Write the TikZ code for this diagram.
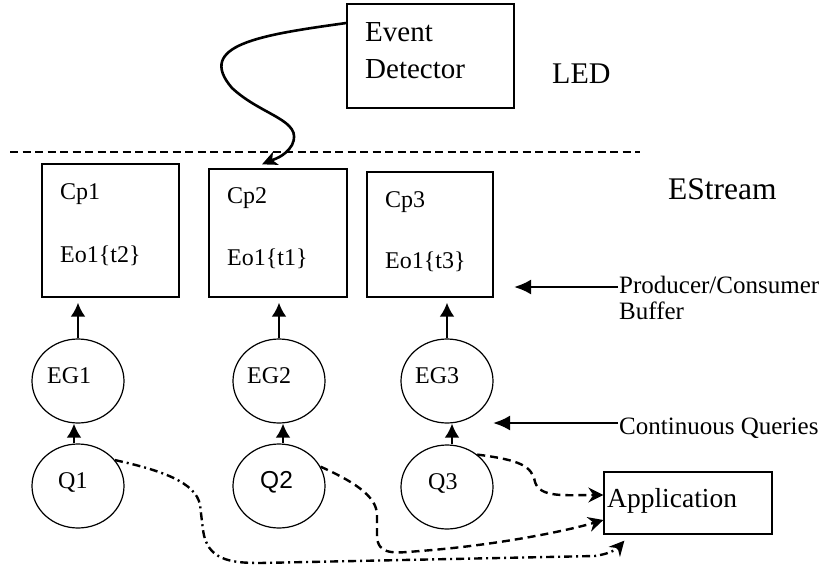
\documentclass[tikz,border=0pt]{standalone}
\usepackage{fontspec}
\setmainfont{Liberation Serif}
\newfontfamily\arialf{Liberation Sans}
\usetikzlibrary{shapes.geometric,arrows.meta}
\begin{document}
\begin{tikzpicture}[x=1pt,y=-1pt,
  box/.style={draw,line width=1.3pt,rectangle,inner sep=0pt},
  oval/.style={draw,ellipse,line width=1.2pt,minimum width=92pt,minimum height=84pt,inner sep=0pt},
  txt/.style={inner sep=0pt,anchor=base west},
  fbig/.style={font=\fontsize{29}{34}\selectfont},
  fmid/.style={font=\fontsize{24}{28}\selectfont},
  flab/.style={font=\fontsize{25}{28}\selectfont},
  arr/.style={line width=2.7pt,-{Latex[length=14pt,width=15pt]}},
  harr/.style={line width=2.4pt,-{Latex[length=17pt,width=15pt]}},
  dsh/.style={line width=2.4pt,dash pattern=on 8pt off 5pt,-{Stealth[length=15pt,width=15pt,inset=5pt]}},
  dshdot/.style={line width=2.4pt,dash pattern=on 8pt off 4pt on 2pt off 4pt,-{Stealth[length=15pt,width=15pt,inset=5pt]}},
  curv/.style={line width=2.6pt,-{Stealth[length=15pt,width=14pt,inset=4pt]}}
]
\useasboundingbox (0,0) rectangle (827,567);

% boxes
\node[box,minimum width=167pt,minimum height=104pt] (ED) at (430.5,56) {};
\node[box,minimum width=137pt,minimum height=133pt] (cp1) at (110.5,230.5) {};
\node[box,minimum width=138pt,minimum height=128pt] (cp2) at (278,233) {};
\node[box,minimum width=126pt,minimum height=125pt] (cp3) at (430,234.5) {};
\node[box,minimum width=168pt,minimum height=62pt] (App) at (688,503) {};

% ellipses
\node[oval] (EG1) at (78,381) {};
\node[oval] (EG2) at (279,381) {};
\node[oval] (EG3) at (447,381) {};
\node[oval] (Q1) at (78,486) {};
\node[oval] (Q2) at (279,486) {};
\node[oval] (Q3) at (447,487) {};

% texts
\node[txt,fbig] (tEv) at (365,42) {Event};
\node[txt,fbig] (tDet) at (365,79) {Detector};
\node[txt,font=\fontsize{30}{34}\selectfont] (tLED) at (552,84) {LED};
\node[txt,font=\fontsize{31.5}{36}\selectfont] (tES) at (668,199) {EStream};
\node[txt,fmid] (tc1) at (60,199) {Cp1};
\node[txt,fmid] (te1) at (60,262) {Eo1\{t2\}};
\node[txt,fmid] (tc2) at (227,203) {Cp2};
\node[txt,fmid] (te2) at (227,265) {Eo1\{t1\}};
\node[txt,fmid] (tc3) at (385,207) {Cp3};
\node[txt,fmid] (te3) at (385,268) {Eo1\{t3\}};
\node[txt,fmid] (tg1) at (47,383) {EG1};
\node[txt,fmid] (tg2) at (247,383) {EG2};
\node[txt,fmid] (tg3) at (415,383) {EG3};
\node[txt,fmid] (tq1) at (58,488) {Q1};
\node[txt,font=\fontsize{24.5}{28}\arialf] (tq2) at (260,488) {Q2};
\node[txt,fmid] (tq3) at (428,489) {Q3};
\node[txt,flab] (tPC) at (619,293) {Producer/Consumer};
\node[txt,flab] (tBuf) at (619,319) {Buffer};
\node[txt,flab] (tCQ) at (619,434) {Continuous Queries};
\node[txt,font=\fontsize{27.5}{32}\selectfont] (tApp) at (607,507) {Application};

% divider
\coordinate (dL) at (10,152);
\coordinate (dR) at (640,152);
\draw[line width=2.2pt,dash pattern=on 8pt off 4.5pt] (dL) -- (dR);

% curved arrow from Event Detector to Cp2
\draw[curv] ([yshift=33pt]ED.west) .. controls (260,35) and (195,45) .. (232,88)
  .. controls (262,116) and (304,120) .. (292,145)
  .. controls (285,157) and (272,160) .. ([xshift=-16pt,yshift=4pt]cp2.north);

% vertical arrows
\draw[arr,shorten >=5pt] (EG1.north) -- (EG1.north |- cp1.south);
\draw[arr,shorten >=5pt] (EG2.north) -- (EG2.north |- cp2.south);
\draw[arr,shorten >=5pt] (EG3.north) -- (EG3.north |- cp3.south);
\draw[arr] ([xshift=-4pt]Q1.north) -- ([xshift=-4pt]EG1.south);
\draw[arr] ([xshift=4pt]Q2.north) -- ([xshift=4pt]EG2.south);
\draw[arr] ([xshift=5pt]Q3.north) -- ([xshift=5pt]EG3.south);

% pointer arrows
\coordinate (pcA) at (618,287);
\coordinate (pcB) at (514,287);
\draw[harr] (pcA) -- (pcB);
\coordinate (cqA) at (618,423);
\coordinate (cqB) at (493,423);
\draw[harr] (cqA) -- (cqB);

% dashed connectors to Application
\draw[dsh] (Q3.47) .. controls (520,460) and (532,466) .. (535,482)
  .. controls (540,498) and (565,495) .. ([yshift=8pt]App.west);
\draw[dsh] (Q2.25) .. controls (350,480) and (377,495) .. (377,515)
  -- (377,535) .. controls (377,556) and (395,553) .. (420,551)
  .. controls (500,545) and (570,530) .. ([yshift=-17pt]App.west);
\draw[dshdot] (Q1.35) .. controls (160,470) and (196,482) .. (200,505)
  -- (203,530) .. controls (207,560) and (230,563) .. (260,563)
  -- (595,556) .. controls (608,554) and (616,550) .. ([xshift=21pt,yshift=-6pt]App.south west);
\end{tikzpicture}
\end{document}
